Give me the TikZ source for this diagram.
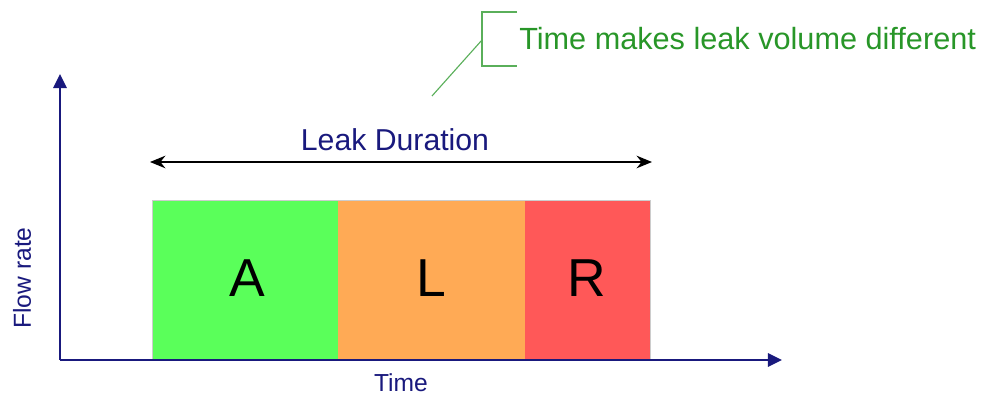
\documentclass[tikz,border=0pt]{standalone}
\usepackage{fontspec}
\setmainfont{Liberation Sans}
\usepackage{xcolor}
\usetikzlibrary{calc}
\usetikzlibrary{positioning}
\usetikzlibrary{arrows.meta}

\definecolor{axisblue}{RGB}{25,25,125}
\definecolor{barA}{RGB}{90,255,90}
\definecolor{barL}{RGB}{255,170,85}
\definecolor{barR}{RGB}{255,88,88}
\definecolor{notegreen}{RGB}{40,150,40}
\definecolor{leadgreen}{RGB}{90,175,90}

\tikzset{
  axisline/.style={axisblue, line width=1.2pt, -{Triangle[length=10pt,width=9.5pt]}},
  phasebox/.style={draw=gray!40, line width=0.4pt},
  phaselabel/.style={font=\fontsize{38}{40}\selectfont, text=black},
  axislabel/.style={font=\fontsize{17.5}{19}\selectfont, text=axisblue},
}

\begin{document}
\begin{tikzpicture}[x=0.025cm,y=-0.025cm]
\useasboundingbox (0,0) rectangle (989,399);

% axes
\coordinate (origin) at (60,360);
\coordinate (ytip) at (60,74);
\coordinate (xtip) at (782,360);

% phases
\fill[barA] (152,200) rectangle (338,360);
\fill[barL] (338,200) rectangle (525,360);
\fill[barR] (525,200) rectangle (650,360);
\draw[phasebox] (152,360) -- (152,200) -- (650,200) -- (650,360);
\node[phaselabel] (A) at (247,278) {A};
\node[phaselabel] (L) at (431,278) {L};
\node[phaselabel] (R) at (587,278) {R};

\draw[axisline] (origin) -- (ytip);
\draw[axisline] (origin) -- (xtip);
\node[axislabel, rotate=90] (flow) at (22,278) {Flow rate};
\node[axislabel] (time) at (401,383) {Time};

% duration
\coordinate (dstart) at (150,162);
\coordinate (dend) at (652,162);
\draw[black, line width=0.9pt, {Stealth[length=11pt,width=9pt]}-{Stealth[length=11pt,width=9pt]}] (dstart) -- (dend);
\node[font=\fontsize{21.5}{23}\selectfont, text=axisblue] (duration) at (395,140) {Leak Duration};

% callout
\coordinate (bracket) at (482,40);
\coordinate (leadend) at (432,96);
\draw[leadgreen, line width=1.2pt] (517,12) -- (482,12) -- (482,66) -- (517,66);
\draw[leadgreen, line width=0.8pt] (leadend) -- (bracket);
\node[font=\fontsize{21.8}{23}\selectfont, text=notegreen, anchor=west, inner sep=0pt] (note) at (519,39) {Time makes leak volume different};

\end{tikzpicture}
\end{document}
